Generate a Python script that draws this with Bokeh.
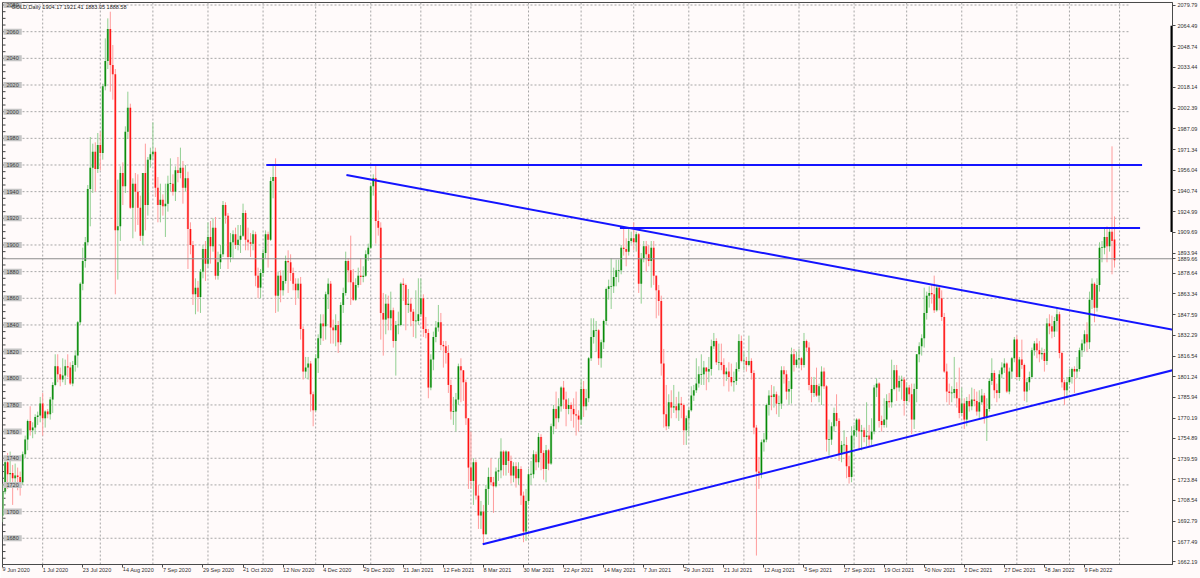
import datetime as dt
import numpy as np
from bokeh.plotting import figure
from bokeh.models import Range1d, FixedTicker, PrintfTickFormatter, ColumnDataSource, Label
from bokeh.embed import file_html
from bokeh.resources import INLINE

# ---------------- data (GOLD, Daily) ----------------
opens = [
    1697,1715,1737,1728,1729,1725,1727,1726,1722,1743,1754,1768,1761,1763,1771,1772,
    1781,1770,1775,1773,1784,1795,1809,1803,1799,1802,1809,1808,1796,1810,1817,1842,1871,1888,1902,1942,1958,1970,1957,
    1975,1969,2019,2038,2062,2035,2028,1911,1914,1954,1944,1985,2003,1928,1946,1940,1928,1907,1954,1930,1964,
    1968,1970,1943,1930,1934,1929,1931,1946,1946,1940,1956,1954,1958,1943,1950,1912,1900,1863,1868,1861,1880,1897,
    1886,1906,1899,1913,1877,1887,1893,1930,1922,1891,1902,1908,1900,1904,1907,1924,1904,1902,1901,1908,1877,1868,
    1879,1894,1908,1904,1948,1951,1862,1877,1866,1873,1888,1887,1879,1871,1866,1871,1837,1805,1808,1811,1788,
    1776,1815,1830,1841,1839,1863,1871,1838,1836,1840,1827,1855,1864,1888,1881,1872,1859,1870,1877,1876,1877,1893,
    1898,1944,1950,1918,1913,1849,1844,1856,1845,1851,1828,1840,1840,1871,1870,1855,1856,1850,1843,1843,
    1848,1860,1837,1834,1793,1814,1831,1838,1842,1825,1824,1819,1795,1775,1775,1784,1809,1806,1797,1770,
    1733,1723,1737,1712,1697,1700,1683,1717,1726,1722,1719,1730,1731,1745,1735,1745,1738,1727,1734,1725,1732,1712,1685,
    1708,1728,1728,1743,1737,1756,1744,1732,1746,1736,1764,1777,1770,1779,1793,1784,1777,1780,1777,1773,1772,
    1769,1792,1779,1785,1815,1831,1836,1836,1815,1827,1843,1867,1869,1869,1876,1881,1881,1898,1897,1895,1903,
    1905,1902,1908,1871,1890,1899,1893,1888,1898,1877,1866,1858,1811,1773,1764,1782,1778,1779,1776,1781,1780,1761,
    1770,1776,1787,1791,1796,1803,1803,1808,1805,1807,1824,1828,1812,1812,1810,1803,1805,1801,1797,1798,1807,1828,
    1813,1813,1810,1813,1804,1763,1730,1729,1752,1754,1780,1787,1786,1788,1781,1781,1806,1803,1790,1792,1818,1810,
    1814,1815,1810,1828,1823,1795,1789,1795,1787,1794,1805,1794,1754,1754,1764,1774,1768,1743,1750,1750,1734,1726,
    1757,1761,1769,1760,1761,1756,1757,1754,1760,1793,1796,1768,1765,1769,1783,1782,1792,1806,1793,1798,1799,
    1783,1793,1788,1769,1792,1818,1824,1830,1849,1862,1864,1863,1851,1868,1860,1846,1805,1790,1789,1789,1792,1785,
    1774,1781,1769,1783,1779,1784,1783,1775,1782,1787,1771,1777,1798,1804,1791,1789,1803,1808,1811,1790,1805,1815,
    1829,1801,1814,1810,1790,1797,1801,1821,1826,1821,1818,1819,1813,1841,1839,1835,1843,1848,1819,1797,1791,
    1797,1801,1807,1805,1807,1821,1826,1833,1827,1859,1871,1853,1870,1898,1898,1906,1899,1910,1904.17,
]
highs = [
    1721,1739,1744,1745,1735,1736,1733,1730,1745,1757,1769,1779,1767,1773,1775,1786,
    1789,1776,1777,1786,1797,1818,1818,1808,1815,1814,1818,1812,1813,1821,1843,1872,1898,1906,1945,1981,1976,1977,1984,
    1985,2021,2055,2070,2075,2050,2032,1949,1959,1962,1989,2015,2006,1950,1954,1953,1937,1954,1976,1966,1973,
    1992,1973,1951,1946,1938,1946,1952,1965,1953,1959,1966,1973,1963,1960,1955,1917,1903,1875,1873,1882,1900,1903,
    1917,1918,1920,1921,1895,1900,1933,1932,1924,1909,1911,1913,1915,1915,1931,1926,1913,1909,1911,1910,1883,1882,
    1897,1911,1910,1951,1960,1965,1880,1881,1881,1892,1896,1893,1883,1875,1875,1876,1839,1816,1816,1813,1790,
    1818,1833,1848,1848,1865,1875,1873,1844,1848,1843,1857,1868,1895,1890,1907,1882,1875,1883,1890,1884,1896,1901,
    1945,1953,1960,1926,1917,1864,1863,1862,1865,1853,1843,1850,1872,1875,1871,1867,1860,1852,1866,1875,
    1875,1863,1846,1837,1818,1835,1843,1855,1849,1828,1828,1825,1799,1786,1789,1811,1815,1806,1799,1770,
    1760,1740,1739,1720,1708,1705,1720,1733,1740,1726,1733,1740,1755,1746,1746,1745,1742,1737,1737,1737,1734,1715,1717,
    1732,1738,1746,1745,1759,1758,1746,1750,1747,1766,1780,1790,1785,1794,1798,1790,1785,1782,1785,1790,1776,
    1799,1798,1792,1816,1845,1845,1843,1837,1829,1844,1868,1874,1890,1883,1889,1889,1900,1913,1905,1913,1910,
    1917,1910,1909,1894,1903,1903,1900,1903,1903,1877,1870,1862,1822,1795,1788,1791,1795,1786,1790,1786,1781,1772,
    1778,1794,1795,1815,1809,1818,1813,1808,1816,1829,1834,1830,1826,1826,1815,1808,1812,1811,1805,1812,1833,1832,
    1820,1816,1832,1815,1806,1765,1741,1754,1759,1781,1791,1795,1794,1790,1787,1809,1809,1806,1798,1823,1822,1820,
    1822,1816,1834,1829,1827,1801,1801,1808,1796,1809,1808,1795,1769,1767,1778,1788,1770,1753,1761,1756,1742,1764,
    1765,1770,1770,1765,1763,1782,1765,1770,1795,1800,1797,1772,1785,1788,1789,1814,1810,1810,1802,1802,1801,
    1797,1795,1796,1796,1818,1827,1833,1868,1865,1869,1870,1877,1870,1869,1866,1849,1811,1796,1794,1816,1797,1808,
    1793,1785,1786,1788,1793,1792,1790,1791,1792,1789,1785,1800,1815,1806,1796,1806,1812,1815,1812,1808,1816,1831,
    1832,1816,1829,1811,1800,1805,1823,1828,1830,1828,1823,1822,1845,1848,1847,1846,1853,1850,1820,1799,1801,
    1807,1808,1809,1816,1823,1829,1836,1842,1865,1875,1872,1875,1902,1903,1913,1914,1913,1974,1921.41,
]
lows = [
    1692,1713,1717,1722,1705,1720,1716,1712,1720,1740,1746,1757,1755,1758,1765,1767,
    1757,1763,1770,1769,1774,1794,1797,1794,1797,1795,1801,1795,1794,1805,1808,1840,1866,1883,1900,1914,1939,1940,1954,
    1956,1964,2016,2032,2015,2009,1863,1874,1903,1930,1939,1980,1927,1905,1910,1915,1903,1900,1911,1922,1958,
    1964,1936,1917,1917,1922,1906,1925,1940,1937,1933,1947,1950,1931,1940,1882,1893,1855,1848,1850,1849,1875,1873,
    1883,1886,1895,1874,1874,1882,1891,1916,1882,1887,1890,1897,1896,1894,1906,1896,1896,1891,1896,1869,1860,1860,
    1876,1890,1883,1903,1935,1849,1850,1857,1862,1871,1864,1873,1866,1855,1860,1829,1799,1800,1799,1775,1764,
    1775,1804,1825,1828,1829,1852,1826,1826,1824,1819,1825,1849,1862,1872,1855,1858,1858,1868,1870,1872,1876,1888,
    1897,1937,1901,1907,1829,1817,1833,1836,1836,1823,1802,1833,1839,1858,1836,1849,1839,1831,1830,1840,
    1846,1831,1830,1785,1791,1806,1827,1835,1821,1808,1811,1789,1769,1765,1760,1780,1782,1783,1765,1717,
    1717,1705,1709,1687,1687,1676,1683,1705,1720,1699,1718,1723,1725,1727,1727,1729,1721,1722,1718,1720,1705,1677,1678,
    1705,1720,1725,1731,1733,1731,1724,1722,1731,1735,1758,1762,1767,1775,1777,1764,1773,1768,1763,1757,1760,
    1765,1771,1776,1782,1813,1826,1820,1810,1808,1822,1840,1859,1852,1864,1869,1872,1878,1892,1884,1892,1901,
    1896,1895,1864,1856,1887,1880,1884,1868,1870,1845,1847,1802,1763,1761,1762,1770,1774,1770,1768,1770,1750,1750,
    1757,1775,1783,1789,1793,1795,1795,1791,1797,1802,1822,1810,1806,1806,1794,1798,1790,1794,1790,1795,1805,1812,
    1806,1805,1809,1799,1758,1667,1717,1725,1745,1752,1772,1776,1778,1773,1771,1777,1796,1784,1780,1781,1805,1808,
    1808,1806,1808,1820,1791,1782,1786,1786,1782,1780,1792,1745,1742,1750,1760,1764,1738,1737,1743,1725,1721,1722,
    1748,1756,1746,1746,1752,1749,1749,1750,1758,1786,1763,1760,1763,1763,1778,1778,1791,1783,1790,1784,1772,
    1780,1782,1758,1762,1782,1812,1817,1823,1844,1853,1856,1849,1850,1851,1843,1804,1782,1780,1782,1785,1778,1770,
    1772,1762,1764,1775,1776,1779,1772,1770,1780,1766,1753,1775,1795,1785,1782,1785,1800,1804,1789,1788,1800,1812,
    1799,1798,1807,1783,1782,1791,1800,1817,1815,1812,1814,1805,1810,1833,1830,1831,1835,1815,1793,1780,1785,
    1795,1796,1789,1800,1805,1816,1820,1820,1822,1852,1842,1850,1865,1887,1893,1887,1895,1878,1883.05,
]
closes = [
    1715,1737,1728,1729,1725,1727,1726,1722,1743,1754,1768,1761,1763,1771,1772,1781,
    1770,1775,1773,1784,1795,1809,1803,1799,1802,1809,1808,1796,1810,1817,1842,1871,1888,1902,1942,1958,1970,1957,1975,
    1969,2019,2038,2062,2035,2028,1911,1914,1954,1944,1985,2003,1928,1946,1940,1928,1907,1954,1930,1964,1968,
    1970,1943,1930,1934,1929,1931,1946,1946,1940,1956,1954,1958,1943,1950,1912,1900,1863,1868,1861,1880,1897,1886,
    1906,1899,1913,1877,1887,1893,1930,1922,1891,1902,1908,1900,1904,1907,1924,1904,1902,1901,1908,1877,1868,1879,
    1894,1908,1904,1948,1951,1862,1877,1866,1873,1888,1887,1879,1871,1866,1871,1837,1805,1808,1811,1788,1776,
    1815,1830,1841,1839,1863,1871,1838,1836,1840,1827,1855,1864,1888,1881,1872,1859,1870,1877,1876,1877,1893,1898,
    1944,1950,1918,1913,1849,1844,1856,1845,1851,1828,1840,1840,1871,1870,1855,1856,1850,1843,1843,1848,
    1860,1837,1834,1793,1814,1831,1838,1842,1825,1824,1819,1795,1775,1775,1784,1809,1806,1797,1770,1733,
    1723,1737,1712,1697,1700,1683,1717,1726,1722,1719,1730,1731,1745,1735,1745,1738,1727,1734,1725,1732,1712,1685,1708,
    1728,1728,1743,1737,1756,1744,1732,1746,1736,1764,1777,1770,1779,1793,1784,1777,1780,1777,1773,1772,1769,
    1792,1779,1785,1815,1831,1836,1836,1815,1827,1843,1867,1869,1869,1876,1881,1881,1898,1897,1895,1903,1905,
    1902,1908,1871,1890,1899,1893,1888,1898,1877,1866,1858,1811,1773,1764,1782,1778,1779,1776,1781,1780,1761,1770,
    1776,1787,1791,1796,1803,1803,1808,1805,1807,1824,1828,1812,1812,1810,1803,1805,1801,1797,1798,1807,1828,1813,
    1813,1810,1813,1804,1763,1730,1729,1752,1754,1780,1787,1786,1788,1781,1781,1806,1803,1790,1792,1818,1810,1814,
    1815,1810,1828,1823,1795,1789,1795,1787,1794,1805,1794,1754,1754,1764,1774,1768,1743,1750,1750,1734,1726,1757,
    1761,1769,1760,1761,1756,1757,1754,1760,1793,1796,1768,1765,1769,1783,1782,1792,1806,1793,1798,1799,1783,
    1793,1788,1769,1792,1818,1824,1830,1849,1862,1864,1863,1851,1868,1860,1846,1805,1790,1789,1789,1792,1785,1774,
    1781,1769,1783,1779,1784,1783,1775,1782,1787,1771,1777,1798,1804,1791,1789,1803,1808,1811,1790,1805,1815,1829,
    1801,1814,1810,1790,1797,1801,1821,1826,1821,1818,1819,1813,1841,1839,1835,1843,1848,1819,1797,1791,1797,
    1801,1807,1805,1807,1821,1826,1833,1827,1859,1871,1853,1870,1898,1898,1906,1899,1910,1903,1888.58,
]

first_day = "2020-06-09"
closed_days = ["2020-12-25", "2021-01-01", "2021-04-02", "2021-12-24"]

date_labels = ["9 Jun 2020", "1 Jul 2020", "23 Jul 2020", "14 Aug 2020", "7 Sep 2020",
               "29 Sep 2020", "21 Oct 2020", "12 Nov 2020", "4 Dec 2020", "29 Dec 2020",
               "21 Jan 2021", "12 Feb 2021", "8 Mar 2021", "30 Mar 2021", "22 Apr 2021",
               "14 May 2021", "7 Jun 2021", "29 Jun 2021", "21 Jul 2021", "12 Aug 2021",
               "3 Sep 2021", "27 Sep 2021", "19 Oct 2021", "10 Nov 2021", "2 Dec 2021",
               "27 Dec 2021", "18 Jan 2022", "9 Feb 2022"]

right_ticks = [2079.79, 2064.49, 2048.74, 2033.44, 2018.14, 2002.39, 1987.09, 1971.34,
               1956.04, 1940.74, 1924.99, 1909.69, 1893.94, 1878.64, 1863.34, 1847.59,
               1832.29, 1816.54, 1801.24, 1785.94, 1770.19, 1754.89, 1739.59, 1723.84,
               1708.54, 1692.79, 1677.49, 1662.19]

left_levels = [1680, 1700, 1720, 1740, 1760, 1780, 1800, 1820, 1840, 1860, 1880, 1900,
               1920, 1940, 1960, 1980, 2000, 2020, 2040, 2060, 2080]

bid_price = 1889.66
header_text = "GOLD,Daily  1904.17 1921.41 1883.05 1888.58"

# trend lines (bar-index, price)
trend_x0 = [105.3, 246.5, 137.3, 191.7]
trend_y0 = [1960.0, 1912.8, 1952.5, 1675.5]
trend_x1 = [455.0, 454.2, 467.7, 467.7]
trend_y1 = [1960.0, 1912.8, 1836.3, 1806.3]

# ---------------- calendar of trading bars ----------------
closed = {dt.date.fromisoformat(s) for s in closed_days}
days = []
d = dt.date.fromisoformat(first_day)
while d <= dt.date(2022, 3, 31):
    if d.weekday() < 5 and d not in closed:
        days.append(d)
    d += dt.timedelta(days=1)

n = min(len(opens), len(highs), len(lows), len(closes))
xi = np.arange(n)
o = np.array(opens[:n], float)
h = np.array(highs[:n], float)
l = np.array(lows[:n], float)
c = np.array(closes[:n], float)

X0, X1 = -0.05, 467.15
Y0, Y1 = 1660.3, 2081.9

label_pos = []
for k, s in enumerate(date_labels):
    try:
        label_pos.append(days.index(dt.datetime.strptime(s, "%d %b %Y").date()))
    except ValueError:
        label_pos.append(16 * k)

month_starts = [i for i in range(1, len(days)) if days[i].month != days[i - 1].month and i < X1]

BG = "#fffafa"
FONT = "Liberation Sans"
FS = "5.5px"

p = figure(width=1200, height=578, output_backend="svg", toolbar_location=None,
           x_range=Range1d(X0, X1), y_range=Range1d(Y0, Y1),
           y_axis_location="right", min_border_left=2, min_border_top=2,
           min_border_right=0, min_border_bottom=0,
           background_fill_color=BG, border_fill_color=BG)
p.outline_line_color = "#4a4a4a"
p.outline_line_width = 1
p.grid.visible = False

# axes
p.xaxis.ticker = FixedTicker(ticks=label_pos)
p.xaxis.major_label_overrides = {pos: s for pos, s in zip(label_pos, date_labels)}
p.xaxis.major_label_orientation = -0.0001
p.xaxis.major_label_text_font = FONT
p.xaxis.major_label_text_font_size = FS
p.xaxis.major_label_text_color = "#303030"
p.xaxis.major_label_standoff = 2
p.xaxis.axis_label = None
p.xaxis.axis_label_standoff = 0
p.xaxis.major_tick_out = 3
p.xaxis.major_tick_in = 0
p.xaxis.minor_tick_line_color = None
p.xaxis.axis_line_color = "#4a4a4a"
p.xaxis.major_tick_line_color = "#4a4a4a"

p.yaxis.ticker = FixedTicker(ticks=right_ticks + [bid_price])
p.yaxis.formatter = PrintfTickFormatter(format="%.2f")
p.yaxis.major_label_text_font = FONT
p.yaxis.major_label_text_font_size = FS
p.yaxis.major_label_text_color = "#303030"
p.yaxis.major_label_standoff = 2
p.yaxis.axis_label = None
p.yaxis.axis_label_standoff = 0
p.yaxis.major_tick_out = 3
p.yaxis.major_tick_in = 0
p.yaxis.minor_tick_line_color = None
p.yaxis.axis_line_color = "#4a4a4a"
p.yaxis.major_tick_line_color = "#4a4a4a"

# grid (dotted)
GRID = "#a6a6a6"
p.segment(x0=[X0] * len(left_levels), x1=[450] * len(left_levels), y0=left_levels, y1=left_levels,
          line_color=GRID, line_dash="2 2", line_width=1)
p.segment(x0=month_starts, x1=month_starts, y0=[Y0] * len(month_starts), y1=[Y1] * len(month_starts),
          line_color=GRID, line_dash="2 2", line_width=1)

# left small ticks
minor_levels = [v for v in range(1665, 2081, 5)]
p.segment(x0=[X0] * len(minor_levels), x1=[X0 + 1.2] * len(minor_levels), y0=minor_levels, y1=minor_levels,
          line_color="#404040", line_width=1)

# candles
up = c >= o
top = np.maximum(o, c)
bot = np.minimum(o, c)
small = (top - bot) < 0.6
mid = (top + bot) / 2
top = np.where(small, mid + 0.3, top)
bot = np.where(small, mid - 0.3, bot)
src = ColumnDataSource(dict(
    x=xi.tolist(), h=h.tolist(), l=l.tolist(), top=top.tolist(), bot=bot.tolist(),
    wick=np.where(up, "#92cf92", "#ff9c9c").tolist(),
    halo=np.where(up, "#9ad39a", "#ffa4a4").tolist(),
    core=np.where(up, "#068806", "#ff1111").tolist(),
))
p.segment(x0="x", y0="h", x1="x", y1="l", line_color="wick", line_width=1, source=src)
p.vbar(x="x", width=0.95, top="top", bottom="bot", fill_color="halo", line_color=None, source=src)
p.vbar(x="x", width=0.5, top="top", bottom="bot", fill_color="core", line_color=None, source=src)

# bid line
p.segment(x0=[X0], x1=[X1], y0=[bid_price], y1=[bid_price], line_color="#8c8c8c", line_width=1)

# trend lines
p.segment(x0=trend_x0, y0=trend_y0, x1=trend_x1, y1=trend_y1, line_color="#1414ff", line_width=2)

# scale bar on right edge
p.segment(x0=[X1], x1=[X1], y0=[right_ticks[11]], y1=[right_ticks[1]], line_color="#000000", line_width=4)

# left price boxes
for v in left_levels:
    p.add_layout(Label(x=X0, y=v, x_offset=1, text=str(v), text_baseline="middle",
                       text_font=FONT, text_font_size=FS, text_color="#3a3a3a",
                       background_fill_color="#c4c4c4",
                       padding=dict(left=3, right=3, top=1, bottom=1)))

# header
p.add_layout(Label(x=X0, y=Y1, x_offset=9, y_offset=-1, text=header_text, text_baseline="top",
                   text_font=FONT, text_font_size=FS, text_color="#202020"))

open("out.html", "w").write(file_html(p, INLINE))
